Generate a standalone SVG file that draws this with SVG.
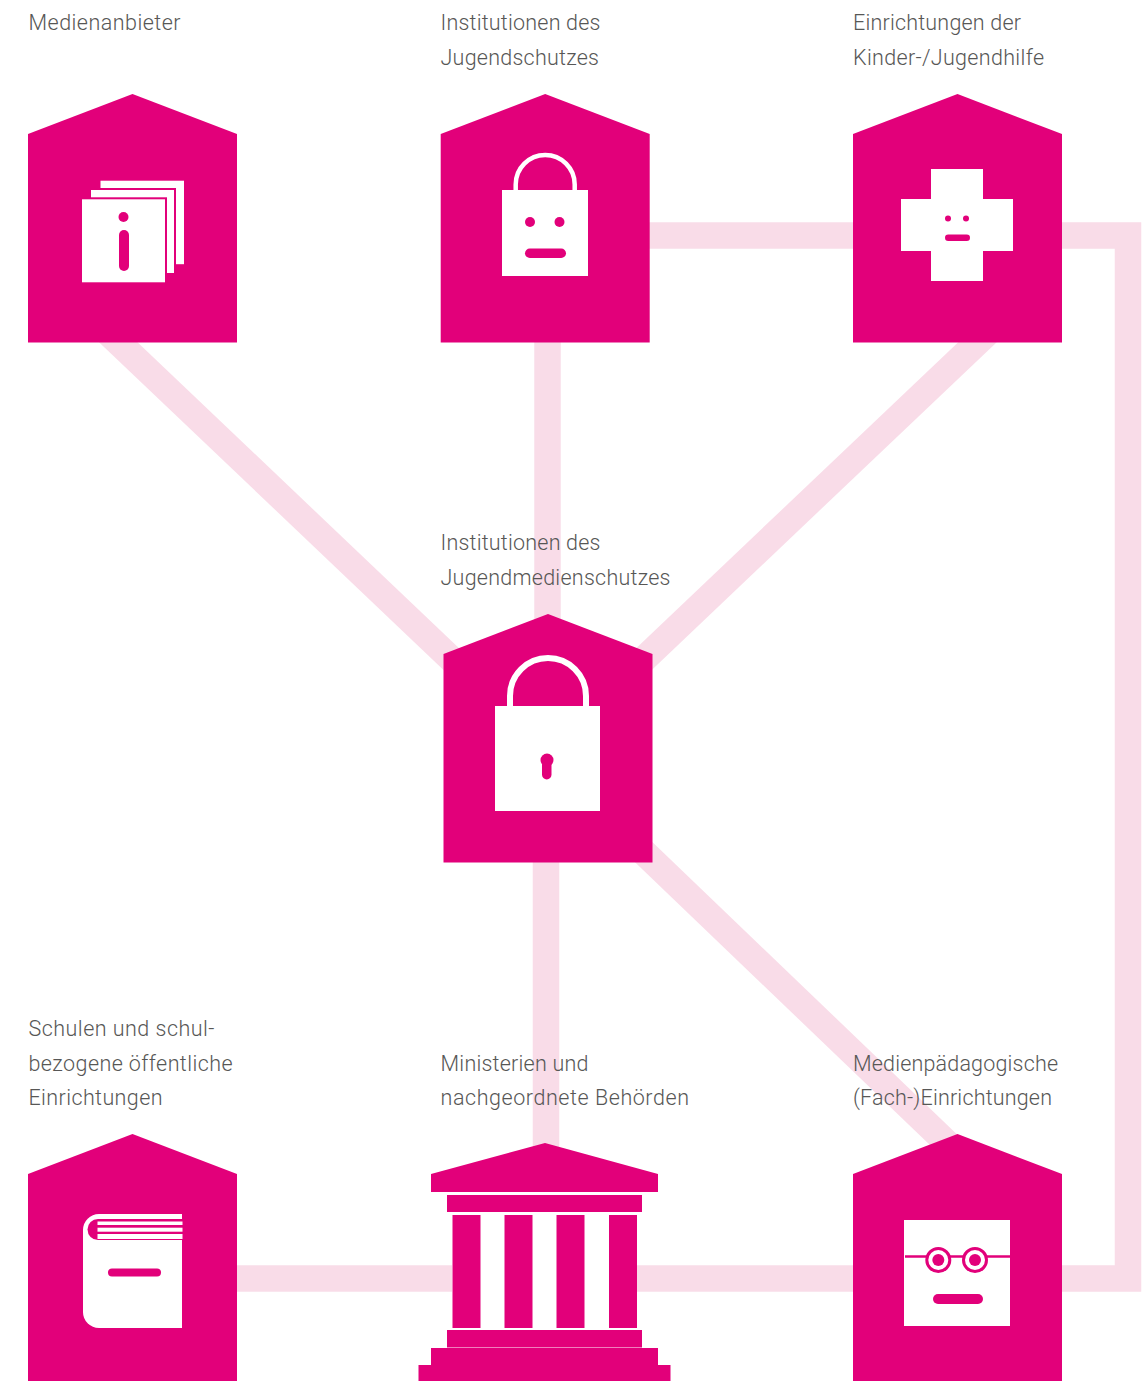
<svg xmlns="http://www.w3.org/2000/svg" width="1142" height="1381" viewBox="0 0 1142 1381">
<style>
.m{fill:#e2007a}
.w{fill:#fff}
.c{fill:none;stroke:#f9dce8;stroke-width:26.5}
.s{fill:none;stroke:#fff}
text{font-family:"Roboto","Liberation Sans",sans-serif;font-weight:300;font-size:21.5px;fill:#575756}
</style>
<defs>
<path id="house" class="m" d="M0 40L104.500 0L209 40V248.400H0Z"/>
</defs>
<rect width="1142" height="1381" fill="#fff"/>
<g id="connectors">
<path class="c" d="M105 329.700L460 667.300"/>
<path class="c" d="M990 330.300L640 662.800"/>
<path class="c" d="M547.500 342V620"/>
<path class="c" d="M640 235.500H853"/>
<path class="c" d="M1062 235.500H1128V1278.500H1062"/>
<path class="c" d="M546 860V1150"/>
<path class="c" d="M640 848.600L949 1145"/>
<path class="c" d="M237 1278.500H853"/>
</g>
<g id="node-medienanbieter">
<use href="#house" x="28" y="94"/>
<rect x="100.500" y="180.700" width="83.500" height="83.500" class="w"/>
<rect x="90" y="189" width="85" height="85" class="w" stroke="#e2007a" stroke-width="2"/>
<rect x="81" y="198.300" width="85" height="85" class="w" stroke="#e2007a" stroke-width="2"/>
<circle cx="123.500" cy="217" r="5" class="m"/>
<rect x="119" y="230" width="10" height="41" rx="5" class="m"/>
<text x="28.500" y="30" textLength="152">Medienanbieter</text>
</g>
<g id="node-jugendschutz">
<use href="#house" x="440.700" y="94"/>
<path class="s" stroke-width="4.500" d="M515.700 191V184.500a29.500 29.500 0 0 1 59 0V191"/>
<rect x="502" y="190" width="86" height="86" class="w"/>
<circle cx="530" cy="222" r="5" class="m"/>
<circle cx="559.500" cy="222" r="5" class="m"/>
<rect x="525" y="248.500" width="41" height="9.500" rx="4.750" class="m"/>
<text x="440.500" y="30" textLength="160">Institutionen des</text>
<text x="440.500" y="65" textLength="158.500">Jugendschutzes</text>
</g>
<g id="node-jugendhilfe">
<use href="#house" x="853" y="94"/>
<path class="w" d="M931 169H983V199H1013V251H983V281H931V251H901V199H931Z"/>
<circle cx="948" cy="218.500" r="3" class="m"/>
<circle cx="966" cy="218.500" r="3" class="m"/>
<rect x="945" y="234.500" width="25" height="6.500" rx="3.250" class="m"/>
<text x="853" y="30" textLength="168">Einrichtungen der</text>
<text x="853" y="65" textLength="191">Kinder-/Jugendhilfe</text>
</g>
<g id="node-jugendmedienschutz">
<use href="#house" x="443.500" y="614"/>
<path class="s" stroke-width="6" d="M510 707V696a38 38 0 0 1 76 0V707"/>
<rect x="495" y="706" width="105" height="105" class="w"/>
<circle cx="547" cy="760" r="6.500" class="m"/>
<rect x="542" y="760" width="9.500" height="19.500" rx="4.750" class="m"/>
<text x="440.500" y="550" textLength="160">Institutionen des</text>
<text x="440.500" y="585" textLength="230">Jugendmedienschutzes</text>
</g>
<g id="node-schulen">
<use href="#house" x="28" y="1134"/>
<path class="w" d="M182 1214H99a16 16 0 0 0 -16 16V1312a16 16 0 0 0 16 16H182Z"/>
<path class="m" d="M182 1219H98a10.500 10.500 0 0 0 0 21H182Z"/>
<rect x="97.500" y="1221.500" width="85" height="3.500" class="w"/>
<rect x="97.500" y="1227.700" width="85" height="4" class="w"/>
<rect x="97.500" y="1234" width="85" height="5" class="w"/>
<rect x="108" y="1268.500" width="53" height="8" rx="4" class="m"/>
<text x="28.500" y="1036" textLength="186">Schulen und schul-</text>
<text x="28.500" y="1071" textLength="204">bezogene öffentliche</text>
<text x="28.500" y="1105" textLength="134">Einrichtungen</text>
</g>
<g id="node-ministerien">
<path class="w" d="M447 1192H642V1215H637V1330H642V1348H447V1330H452V1215H447Z"/>
<path class="m" d="M545 1143L658 1174V1192H431V1174Z"/>
<rect class="m" x="447" y="1195" width="195" height="17"/>
<rect class="m" x="452.500" y="1215" width="28" height="113"/>
<rect class="m" x="504.500" y="1215" width="28" height="113"/>
<rect class="m" x="556.500" y="1215" width="28" height="113"/>
<rect class="m" x="609" y="1215" width="28" height="113"/>
<rect class="m" x="447" y="1330" width="195" height="17.500"/>
<path class="m" d="M431 1348H658V1365H670.500V1381H418.500V1365H431Z"/>
<text x="440.500" y="1071" textLength="148">Ministerien und</text>
<text x="440.500" y="1105" textLength="248.500">nachgeordnete Behörden</text>
</g>
<g id="node-medienpaedagogik">
<use href="#house" x="853" y="1134"/>
<rect x="904" y="1220" width="106" height="106" class="w"/>
<path d="M905 1256.500H1010" fill="none" stroke="#e2007a" stroke-width="2.500"/>
<circle cx="938.300" cy="1260" r="11.500" fill="#fff" stroke="#e2007a" stroke-width="3"/>
<circle cx="975" cy="1260" r="11.500" fill="#fff" stroke="#e2007a" stroke-width="3"/>
<circle cx="938.300" cy="1260" r="6" class="m"/>
<circle cx="975" cy="1260" r="6" class="m"/>
<rect x="933" y="1294" width="50" height="10" rx="5" class="m"/>
<text x="853" y="1071" textLength="205">Medienpädagogische</text>
<text x="853" y="1105" textLength="199">(Fach-)Einrichtungen</text>
</g>
</svg>
